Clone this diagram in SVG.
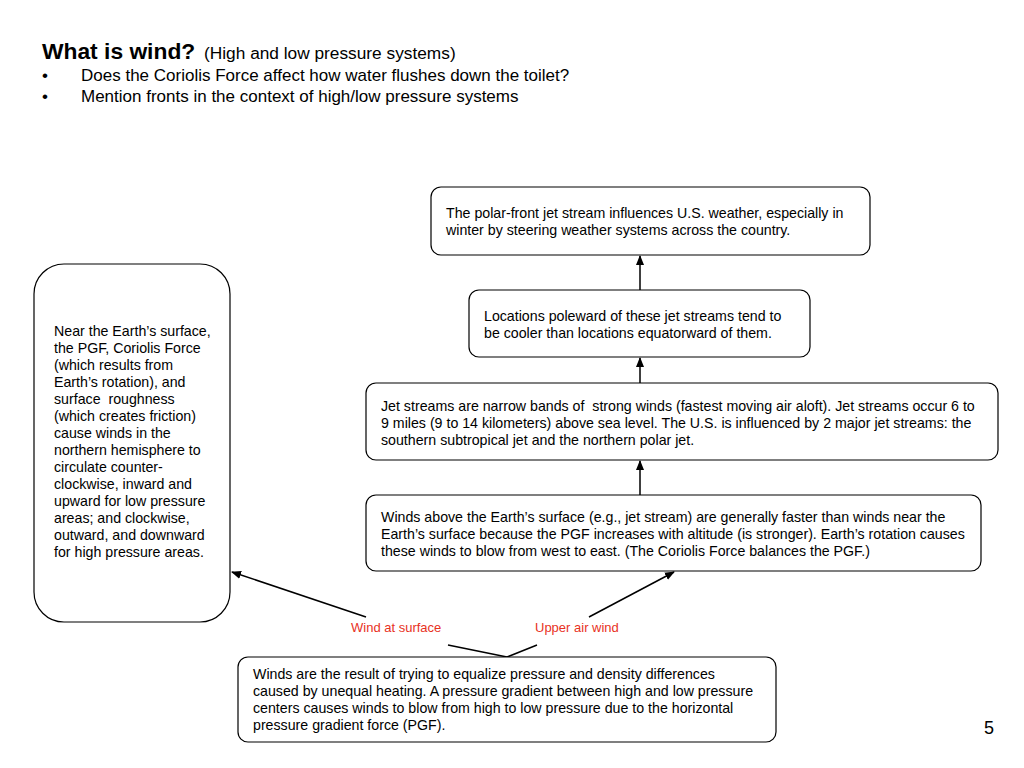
<svg xmlns="http://www.w3.org/2000/svg" width="1024" height="768" viewBox="0 0 1024 768">
<defs>
<marker id="ah" markerWidth="10" markerHeight="10" refX="9" refY="5" orient="auto" markerUnits="userSpaceOnUse">
<path d="M0,1 L10,5 L0,9 Z" fill="#000"/>
</marker>
<style>
.box{fill:#fff;stroke:#000;stroke-width:1.2}
.t{font-family:"Liberation Sans",Arial,sans-serif;font-size:14.2px;fill:#000;white-space:pre}
.h{font-family:"Liberation Sans",Arial,sans-serif;font-size:17px;fill:#000}
.lbl{font-family:"Liberation Sans",Arial,sans-serif;font-size:13px;fill:#e8321e}
.c{stroke:#000;stroke-width:1.5;fill:none}
</style>
</defs>
<rect width="1024" height="768" fill="#fff"/>
<g id="header">
<text x="42" y="59" class="h"><tspan font-weight="bold" font-size="22.8px">What is wind?</tspan><tspan dx="4" font-size="17.3px"> (High and low pressure systems)</tspan></text>
<text x="42" y="81" class="h">•</text>
<text x="81" y="81" class="h">Does the Coriolis Force affect how water flushes down the toilet?</text>
<text x="42" y="102" class="h">•</text>
<text x="81" y="102" class="h">Mention fronts in the context of high/low pressure systems</text>
</g>
<g id="connectors">
<line x1="640" y1="290" x2="640" y2="256" class="c" marker-end="url(#ah)"/>
<line x1="640" y1="383" x2="640" y2="358" class="c" marker-end="url(#ah)"/>
<line x1="640" y1="495" x2="640" y2="461" class="c" marker-end="url(#ah)"/>
<line x1="507" y1="657" x2="448" y2="645" class="c"/>
<line x1="366" y1="617" x2="232" y2="572" class="c" marker-end="url(#ah)"/>
<line x1="507" y1="657" x2="537" y2="645" class="c"/>
<line x1="589" y1="617" x2="674" y2="572" class="c" marker-end="url(#ah)"/>
<text x="351" y="632" class="lbl">Wind at surface</text>
<text x="535" y="632" class="lbl">Upper air wind</text>
</g>
<g id="node-polar">
<rect x="431" y="187" width="439" height="68" rx="10" class="box"/>
<text class="t"><tspan x="446" y="218">The polar-front jet stream influences U.S. weather, especially in</tspan><tspan x="446" y="235">winter by steering weather systems across the country.</tspan></text>
</g>
<g id="node-poleward">
<rect x="469" y="290" width="341" height="67" rx="10" class="box"/>
<text class="t"><tspan x="484" y="321">Locations poleward of these jet streams tend to</tspan><tspan x="484" y="338">be cooler than locations equatorward of them.</tspan></text>
</g>
<g id="node-jet">
<rect x="366" y="383" width="632" height="77" rx="10" class="box"/>
<text class="t"><tspan x="381" y="411">Jet streams are narrow bands of  strong winds (fastest moving air aloft). Jet streams occur 6 to</tspan><tspan x="381" y="428">9 miles (9 to 14 kilometers) above sea level. The U.S. is influenced by 2 major jet streams: the</tspan><tspan x="381" y="445">southern subtropical jet and the northern polar jet.</tspan></text>
</g>
<g id="node-upper">
<rect x="366" y="495" width="615" height="76" rx="10" class="box"/>
<text class="t"><tspan x="381" y="522">Winds above the Earth’s surface (e.g., jet stream) are generally faster than winds near the</tspan><tspan x="381" y="539">Earth’s surface because the PGF increases with altitude (is stronger). Earth’s rotation causes</tspan><tspan x="381" y="556">these winds to blow from west to east. (The Coriolis Force balances the PGF.)</tspan></text>
</g>
<g id="node-surface">
<rect x="34" y="264" width="196" height="358" rx="30" class="box"/>
<text class="t"><tspan x="54" y="336">Near the Earth’s surface,</tspan><tspan x="54" y="353">the PGF, Coriolis Force</tspan><tspan x="54" y="370">(which results from</tspan><tspan x="54" y="387">Earth’s rotation), and</tspan><tspan x="54" y="404">surface  roughness</tspan><tspan x="54" y="421">(which creates friction)</tspan><tspan x="54" y="438">cause winds in the</tspan><tspan x="54" y="455">northern hemisphere to</tspan><tspan x="54" y="472">circulate counter-</tspan><tspan x="54" y="489">clockwise, inward and</tspan><tspan x="54" y="506">upward for low pressure</tspan><tspan x="54" y="523">areas; and clockwise,</tspan><tspan x="54" y="540">outward, and downward</tspan><tspan x="54" y="557">for high pressure areas.</tspan></text>
</g>
<g id="node-winds">
<rect x="238" y="657" width="538" height="85" rx="10" class="box"/>
<text class="t"><tspan x="253" y="679">Winds are the result of trying to equalize pressure and density differences</tspan><tspan x="253" y="696">caused by unequal heating. A pressure gradient between high and low pressure</tspan><tspan x="253" y="713">centers causes winds to blow from high to low pressure due to the horizontal</tspan><tspan x="253" y="730">pressure gradient force (PGF).</tspan></text>
</g>
<text x="984" y="734" font-family="Liberation Sans, Arial, sans-serif" font-size="18px">5</text>
</svg>
